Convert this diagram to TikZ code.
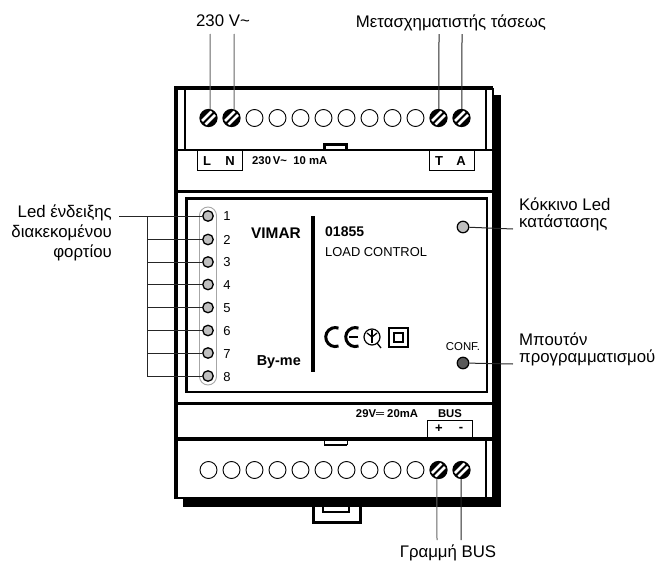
\documentclass[tikz,border=0pt]{standalone}
\usepackage{fontspec}
\setmainfont{Liberation Sans}
\usepackage{tikz}

\tikzset{
  screw/.style={circle,draw=black,fill=black,inner sep=0pt,minimum size=17pt,line width=1.2pt,
    path picture={
      \draw[white,line width=2.6pt] ([shift={(-6.5pt,-3pt)}]path picture bounding box.center) -- ([shift={(3pt,6.5pt)}]path picture bounding box.center);
      \draw[white,line width=2.6pt] ([shift={(-3pt,-6.5pt)}]path picture bounding box.center) -- ([shift={(6.5pt,3pt)}]path picture bounding box.center);
    }},
  hole/.style={circle,draw=black,fill=white,inner sep=0pt,minimum size=17pt,line width=0.9pt},
  led/.style={circle,draw=black,fill=black!25,inner sep=0pt,minimum size=10.5pt,line width=1.3pt},
  wire/.style={line width=1pt,black!85},
  greywire/.style={line width=1pt,black!60},
  label/.style={font=\fontsize{16.8}{16.8}\selectfont,inner sep=0pt},
  small/.style={font=\fontsize{13}{13}\selectfont,inner sep=0pt},
  tiny/.style={font=\bfseries\fontsize{11.3}{11.3}\selectfont,inner sep=0pt},
  pin/.style={font=\bfseries\fontsize{13}{13}\selectfont,inner sep=0pt}
}

\begin{document}
\begin{tikzpicture}[x=1pt,y=-1pt]

    \useasboundingbox (0,0) rectangle (657,562);

    \draw[line width=3.2pt] (176,499) -- (176,88) -- (493,88);
    \draw[line width=1.2pt] (493,88) -- (493,498) -- (176,498);
    \fill (493,95) rectangle (501,507);
    \fill (183,498) rectangle (501,507);

    \draw[line width=1.2pt] (185,88) -- (185,150);
    \draw[line width=1.2pt] (486,88) -- (486,150);
    \draw[line width=2.2pt] (176,150) -- (493,150);
    \draw[line width=3pt] (176,191) -- (493,191);
    \draw[line width=3pt] (176,403) -- (493,403);
    \draw[line width=4.5pt] (176,439) -- (493,439);
    \draw[line width=1.2pt] (486,439) -- (486,498);

    \draw[line width=2.5pt] (324.5,150) -- (324.5,144.5) -- (346.5,144.5) -- (346.5,150);
    \draw[line width=2.2pt] (324,445) -- (347,445);
    \draw[line width=1pt] (324,439) -- (324,445);
    \draw[line width=1pt] (347,439) -- (347,445);

    \draw[line width=3pt] (313,507) -- (313,522) -- (360,522) -- (360,507);
    \draw[line width=2.2pt] (323,507) -- (323,512) -- (349,512) -- (349,507);

    \draw[line width=1pt] (197,150) -- (197,170) -- (242,170) -- (242,150);
    \draw[line width=1pt] (429,150) -- (429,170) -- (474,170) -- (474,150);
    \draw[line width=1pt] (427,437) -- (427,420) -- (472,420) -- (472,437);

    \draw[line width=1.2pt] (186,198) rectangle (487,392);
    \draw[line width=3pt] (186,392) -- (186,198) -- (487,198);
    \draw[line width=4pt] (313,216) -- (313,372);

    \node[screw] (T1) at (208.5,118) {};
    \node[screw] (T2) at (231.5,118) {};
    \node[hole] (T3) at (254.5,118) {};
    \node[hole] (T4) at (277.5,118) {};
    \node[hole] (T5) at (300.5,118) {};
    \node[hole] (T6) at (323.5,118) {};
    \node[hole] (T7) at (346.5,118) {};
    \node[hole] (T8) at (369.5,118) {};
    \node[hole] (T9) at (392.5,118) {};
    \node[hole] (T10) at (415.5,118) {};
    \node[screw] (T11) at (438.5,118) {};
    \node[screw] (T12) at (461.5,118) {};

    \node[hole] (B1) at (208.5,470) {};
    \node[hole] (B2) at (231.5,470) {};
    \node[hole] (B3) at (254.5,470) {};
    \node[hole] (B4) at (277.5,470) {};
    \node[hole] (B5) at (300.5,470) {};
    \node[hole] (B6) at (323.5,470) {};
    \node[hole] (B7) at (346.5,470) {};
    \node[hole] (B8) at (369.5,470) {};
    \node[hole] (B9) at (392.5,470) {};
    \node[hole] (B10) at (415.5,470) {};
    \node[screw] (B11) at (438.5,470) {};
    \node[screw] (B12) at (461.5,470) {};

    \node[pin] (pinL) at (207,161) {L};
    \node[pin] (pinN) at (230,161) {N};
    \node[pin] (pinT) at (439,161) {T};
    \node[pin] (pinA) at (461,161) {A};
    \node[tiny,anchor=west] (rating) at (252,161) {230\,V\raisebox{0.5pt}{\textasciitilde}\ \ 10 mA};
    \node[tiny,anchor=center] (busrating) at (387,414) {29V═ 20mA};
    \node[tiny] (bustitle) at (450,414) {BUS};
    \node[pin] (plus) at (439,429) {+};
    \node[pin] (minus) at (461,429) {-};

    \node[draw=black!35,line width=0.9pt,rounded corners=8.5pt,minimum width=17pt,minimum height=178pt,inner sep=0pt] (ledstrip) at (208,296) {};

    \node[led] (L1) at (208,216) {};
    \node[led] (L2) at (208,239.5) {};
    \node[led] (L3) at (208,262) {};
    \node[led] (L4) at (208,284.5) {};
    \node[led] (L5) at (208,307.5) {};
    \node[led] (L6) at (208,330.5) {};
    \node[led] (L7) at (208,353) {};
    \node[led] (L8) at (208,376) {};

    \node[small] (N1) at (227,216) {1};
    \node[small] (N2) at (227,239.5) {2};
    \node[small] (N3) at (227,262) {3};
    \node[small] (N4) at (227,285) {4};
    \node[small] (N5) at (227,308) {5};
    \node[small] (N6) at (227,331) {6};
    \node[small] (N7) at (227,354) {7};
    \node[small] (N8) at (227,377) {8};

    \coordinate (C1) at (147,216);
    \coordinate (C2) at (147,239.5);
    \coordinate (C3) at (147,262);
    \coordinate (C4) at (147,284.5);
    \coordinate (C5) at (147,307.5);
    \coordinate (C6) at (147,330.5);
    \coordinate (C7) at (147,353);
    \coordinate (C8) at (147,376);
    \coordinate (ledin) at (119,216);

    \draw[wire] (ledin) -- (L1);
    \draw[wire] (C1) -- (C8);
    \draw[wire] (C2) -- (L2);
    \draw[wire] (C3) -- (L3);
    \draw[wire] (C4) -- (L4);
    \draw[wire] (C5) -- (L5);
    \draw[wire] (C6) -- (L6);
    \draw[wire] (C7) -- (L7);
    \draw[wire] (C8) -- (L8);

    \node[font=\bfseries\fontsize{15.4}{15.4}\selectfont,inner sep=0pt,anchor=east] (vimar) at (301,233) {VIMAR};
    \node[font=\bfseries\fontsize{14.4}{14.4}\selectfont,inner sep=0pt,anchor=east] (byme) at (301,362) {By-me};
    \node[font=\bfseries\fontsize{14}{14}\selectfont,inner sep=0pt,anchor=west] (code) at (325,232) {01855};
    \node[font=\fontsize{12.9}{12.9}\selectfont,inner sep=0pt,anchor=west] (name) at (325,252) {LOAD CONTROL};
    \node[font=\fontsize{11.4}{11.4}\selectfont,inner sep=0pt] (conf) at (463,347) {CONF.};

    \draw[line width=3pt] (338.5,346) arc[start angle=70,end angle=290,radius=9.5];
    \draw[line width=3pt] (358.5,346) arc[start angle=70,end angle=290,radius=9.5];
    \draw[line width=2.2pt] (349,337) -- (358,337);
    \draw[line width=1.2pt] (372,337) circle[radius=8];
    \draw[line width=1.3pt] (367,333) -- (372,337) -- (377,333);
    \draw[line width=1.3pt] (372,330) -- (372,343);
    \draw[line width=1.3pt] (377,343) -- (381,348);
    \draw[line width=2.4pt] (389,328) rectangle (408,347);
    \draw[line width=2pt] (394,333) rectangle (403,342);

    \node[led,minimum size=11.5pt,line width=1.2pt] (statusled) at (463,227) {};
    \node[led,minimum size=11.5pt,line width=1.2pt,fill=black!65] (confbutton) at (463,363) {};

    \coordinate (statusin) at (513,229);
    \coordinate (confin) at (513,364);
    \draw[wire] (statusin) -- (statusled);
    \draw[wire] (confin) -- (confbutton);

    \node[label,anchor=west] (statusa) at (519,204) {Κόκκινο Led};
    \node[label,anchor=west] (statusb) at (519,223) {κατάστασης};
    \node[label,anchor=west] (confa) at (519,339) {Μπουτόν};
    \node[label,anchor=west] (confb) at (519,358) {προγραμματισμού};

    \node[label,anchor=east] (leda) at (112,213) {Led ένδειξης};
    \node[label,anchor=east] (ledb) at (112,233) {διακεκομένου};
    \node[label,anchor=east] (ledc) at (112,253) {φορτίου};

    \node[label] (mains) at (223,21) {230 V\textasciitilde};
    \node[label] (trafo) at (451,23) {Μετασχηματιστής τάσεως};
    \node[label] (busline) at (448,553) {Γραμμή BUS};

    \coordinate (W1) at (210,34);
    \coordinate (W2) at (234,34);
    \coordinate (W3) at (439,34);
    \coordinate (W4) at (462,34);
    \coordinate (W5) at (437,540);
    \coordinate (W6) at (461,540);

    \draw[greywire] (W1) -- (T1.80);
    \draw[greywire] (W2) -- (T2.73);
    \draw[wire] (W3) -- (T11.87);
    \draw[wire] (W4) -- (T12.87);
    \draw[greywire] (W5) -- (B11.260);
    \draw[wire] (W6) -- (B12.268);

\end{tikzpicture}
\end{document}
